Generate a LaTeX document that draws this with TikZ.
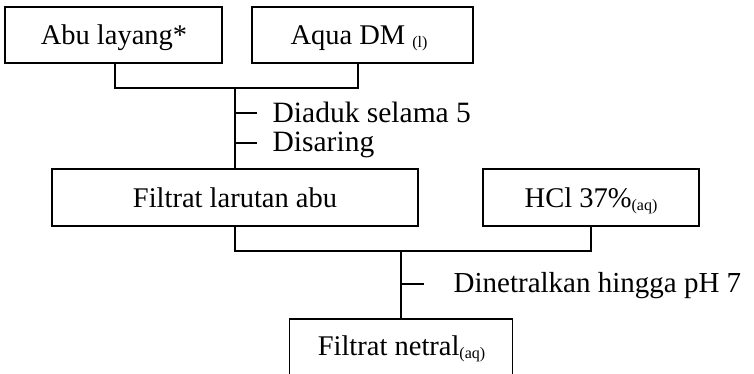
\documentclass[tikz,border=0pt]{standalone}
\usepackage{fontspec}
\setmainfont{Liberation Serif}
\newcommand{\subt}[1]{\raisebox{-3pt}{\fontsize{16}{16}\selectfont #1}}
\begin{document}
\begin{tikzpicture}[x=1pt,y=-1pt,line width=1.3pt,
  box/.style={draw,line width=1.3pt,inner sep=0pt},
  btxt/.style={inner sep=0pt,anchor=base,font=\fontsize{28.5}{30}\selectfont},
  lbl/.style={inner sep=0pt,anchor=base west,font=\fontsize{29.5}{31}\selectfont}]
\useasboundingbox (0,0) rectangle (754,374);
\clip (0,0) rectangle (754,374);
% boxes
\node[box,minimum width=217pt,minimum height=56pt] (b1) at (113.5,35) {};
\node[box,minimum width=221pt,minimum height=56pt] (b2) at (362.5,35) {};
\node[box,minimum width=366pt,minimum height=57pt] (b3) at (235,197.5) {};
\node[box,minimum width=216pt,minimum height=57pt] (b4) at (591,197.5) {};
\node[box,minimum width=223pt,minimum height=57pt] (b5) at (401,347.5) {};
% box texts
\node[btxt] (t1) at (114,44.5) {Abu layang*};
\node[btxt] (t2) at (359,44.5) {Aqua DM \subt{(l)}};
\node[btxt] (t3) at (235,207) {Filtrat larutan abu};
\node[btxt] (t4) at (591,207) {HCl 37\%\subt{(aq)}};
\node[btxt] (t5) at (401.5,355) {Filtrat netral\subt{(aq)}};
% step labels
\node[lbl] (d1) at (272,123) {Diaduk selama 5};
\node[lbl] (d2) at (272,152) {Disaring};
\node[lbl,font=\fontsize{29}{31}\selectfont] (d3) at (453,292) {Dinetralkan hingga pH 7};
% junctions
\coordinate (j1) at (235,88);
\coordinate (j2) at (401,251);
\coordinate (k1) at (235,113);
\coordinate (k2) at (235,143);
\coordinate (k3) at (401,284);
% connectors
\draw ([xshift=1.5pt]b1.south) |- ([xshift=-4.5pt]b2.south |- j1) -- ([xshift=-4.5pt]b2.south);
\draw (j1) -- (b3.north);
\draw (b3.south) |- (b4.south |- j2) -- (b4.south);
\draw (j2) -- (b5.north);
\draw (k1) -- ++(22,0);
\draw (k2) -- ++(22,0);
\draw (k3) -- ++(23,0);
\end{tikzpicture}
\end{document}
